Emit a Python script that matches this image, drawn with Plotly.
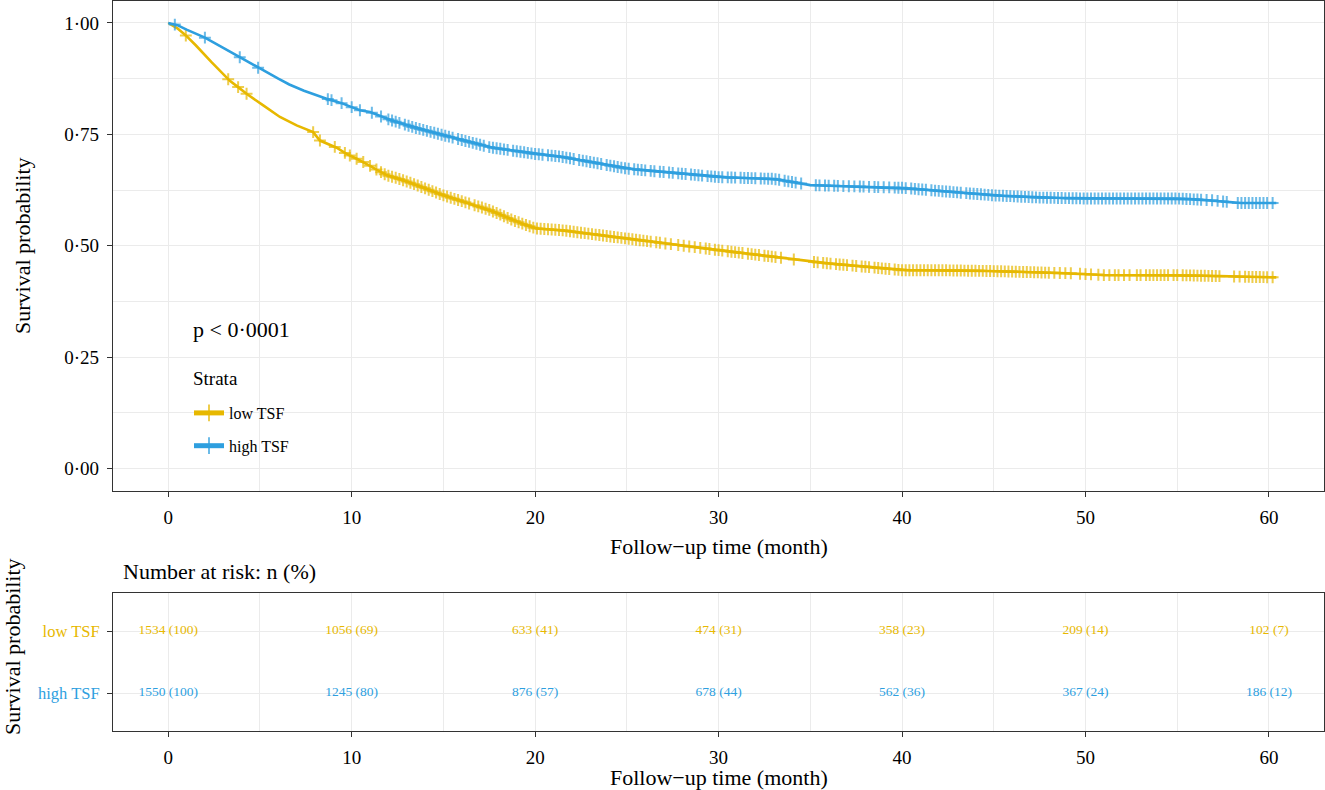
import numpy as np
import plotly.graph_objects as go

# Kaplan-Meier curves (time in months, survival)
low_t = [0, 0.5, 0.96, 1.5, 2.36, 3.36, 3.81, 4.27, 5.18, 6.09, 7.0, 7.9, 8.27, 9.18, 9.72,
         10.63, 11.9, 12.45, 13.35, 15.0, 17.53, 18.8, 20.0, 21.4, 25.0, 30.0, 33.0, 35.0,
         40.0, 42.0, 45.0, 49.2, 51.0, 55.0, 58.9, 60.4]
low_s = [1.0, 0.988, 0.972, 0.95, 0.912, 0.870, 0.856, 0.841, 0.815, 0.789, 0.770, 0.755, 0.736,
         0.720, 0.706, 0.688, 0.658, 0.652, 0.639, 0.613, 0.58, 0.557, 0.539, 0.535, 0.516, 0.49,
         0.475, 0.464, 0.445, 0.445, 0.443, 0.438, 0.434, 0.434, 0.43, 0.429]

high_t = [0, 0.5, 1.0, 2.0, 3.0, 3.9, 5.0, 6.0, 6.6, 7.4, 8.63, 9.45, 10.0, 10.45, 11.0, 11.9,
          13.35, 15.0, 17.53, 20.0, 21.4, 25.0, 30.0, 33.0, 35.0, 40.0, 42.0, 45.0, 47.5, 50.0,
          55.0, 56.9, 58.2, 60.4]
high_s = [1.0, 0.995, 0.985, 0.967, 0.944, 0.923, 0.897, 0.875, 0.862, 0.848, 0.830, 0.820,
          0.811, 0.804, 0.800, 0.785, 0.766, 0.748, 0.721, 0.706, 0.7, 0.673, 0.654, 0.65, 0.636,
          0.63, 0.623, 0.613, 0.608, 0.606, 0.606, 0.602, 0.596, 0.596]

# censoring times (the + marks)
low_cens = [
    0.96, 3.27, 3.81, 4.27, 7.9, 8.27, 9.08, 9.63, 9.9, 10.27, 10.63, 11.0, 11.35, 11.6, 11.8,
    12.0, 12.2, 12.4, 12.6, 12.8, 13.0, 13.2, 13.4, 13.6, 13.8, 14.0, 14.2, 14.4, 14.6, 14.8,
    15.0, 15.2, 15.4, 15.6, 15.8, 16.0, 16.2, 16.4, 16.7, 16.9, 17.1, 17.3, 17.5, 17.7, 17.9,
    18.1, 18.3, 18.5, 18.7, 18.9, 19.1, 19.3, 19.5, 19.7, 19.9, 20.1, 20.3, 20.5, 20.7, 20.9,
    21.1, 21.3, 21.5, 21.7, 21.9, 22.1, 22.3, 22.5, 22.7, 22.9, 23.1, 23.3, 23.5, 23.7, 23.9,
    24.1, 24.3, 24.5, 24.7, 24.9, 25.1, 25.3, 25.5, 25.7, 25.9, 26.1, 26.3, 26.6, 26.8,
    27.1, 27.4, 27.8, 28.1, 28.4, 28.7, 29.0, 29.3, 29.5, 29.8, 30.0, 30.2, 30.5, 30.7, 30.9,
    31.1, 31.3, 31.6, 31.8, 32.0, 32.2, 32.5, 32.7, 32.9, 33.1, 33.4, 34.1,
    35.2, 35.4, 35.7, 35.9, 36.1, 36.4, 36.6, 36.8, 37.0, 37.3, 37.5, 37.8,
    38.0, 38.2, 38.5, 38.7, 38.9, 39.1, 39.3, 39.6, 39.8, 40.0, 40.2, 40.4, 40.6, 40.8,
    41.0, 41.2, 41.4, 41.6, 41.8, 42.0, 42.2, 42.4, 42.6, 42.8, 43.0, 43.2, 43.4, 43.6, 43.8,
    44.0, 44.2, 44.4, 44.6, 44.8, 45.0, 45.2, 45.4, 45.6, 45.8, 46.0, 46.2, 46.4, 46.6, 46.8,
    47.0, 47.2, 47.4, 47.6, 47.8, 48.0, 48.3, 48.6, 48.9, 49.2, 49.7, 50.0, 50.3, 50.7,
    51.0, 51.3, 51.6, 51.8, 52.1, 52.4, 52.8, 53.0, 53.3, 53.5, 53.7, 53.9,
    54.1, 54.3, 54.5, 54.8, 55.0, 55.3, 55.5, 55.7, 55.9, 56.1, 56.3, 56.5, 56.7, 56.9,
    57.1, 57.3, 58.1, 58.4, 58.7, 58.9, 59.1, 59.3, 59.5, 59.7, 59.9, 60.2]
high_cens = [
    0.36, 2.0, 3.9, 4.9, 8.7, 8.9, 9.45, 10.0, 10.45, 11.1, 11.6,
    12.0, 12.2, 12.4, 12.6, 12.9, 13.1, 13.3, 13.5, 13.7, 13.9, 14.1, 14.3, 14.5, 14.7, 14.9,
    15.1, 15.3, 15.5, 15.8, 16.0, 16.2, 16.4, 16.6, 16.8, 17.0, 17.2, 17.5, 17.7, 17.9,
    18.1, 18.3, 18.5, 18.8, 19.0, 19.2, 19.4, 19.6, 19.8, 20.0, 20.2, 20.4, 20.7, 20.9,
    21.1, 21.3, 21.5, 21.7, 21.9, 22.1, 22.4, 22.6, 22.8, 23.0, 23.2, 23.4, 23.6, 23.9,
    24.1, 24.3, 24.5, 24.7, 24.9, 25.1, 25.4, 25.6, 25.8, 26.0, 26.3, 26.5, 26.8,
    27.0, 27.3, 27.5, 27.8, 28.0, 28.2, 28.5, 28.7, 28.9, 29.1, 29.4, 29.6, 29.8,
    30.0, 30.2, 30.5, 30.7, 30.9, 31.2, 31.4, 31.6, 31.8, 32.0, 32.3, 32.5, 32.7, 32.9,
    33.1, 33.3, 33.6, 33.8, 34.0, 34.2, 34.5, 35.3, 35.5, 35.8, 36.0, 36.3, 36.5, 36.8,
    37.1, 37.4, 37.7, 37.9, 38.2, 38.5, 38.7, 39.0, 39.3, 39.6, 39.8,
    40.0, 40.2, 40.5, 40.7, 40.9, 41.1, 41.3, 41.6, 41.8, 42.0, 42.2, 42.4, 42.6, 42.8,
    43.0, 43.2, 43.5, 43.7, 43.9, 44.1, 44.3, 44.5, 44.7, 44.9, 45.1, 45.3, 45.5, 45.7, 45.9,
    46.1, 46.3, 46.5, 46.7, 46.9, 47.1, 47.3, 47.5, 47.7, 47.9, 48.1, 48.3, 48.5, 48.7, 48.9,
    49.1, 49.3, 49.5, 49.7, 49.9, 50.1, 50.3, 50.5, 50.7, 50.9, 51.1, 51.3, 51.5, 51.7, 51.9,
    52.1, 52.3, 52.5, 52.7, 52.9, 53.1, 53.3, 53.5, 53.7, 53.9, 54.1, 54.3, 54.5, 54.7, 54.9,
    55.1, 55.3, 55.5, 55.7, 55.9, 56.1, 56.3, 56.6, 56.9, 57.2, 57.5, 57.7,
    58.3, 58.5, 58.7, 58.9, 59.1, 59.3, 59.5, 59.7, 59.9, 60.2]

# number at risk table
risk_times = [0, 10, 20, 30, 40, 50, 60]
low_n = [1534, 1056, 633, 474, 358, 209, 102]
low_pct = [100, 69, 41, 31, 23, 14, 7]
high_n = [1550, 1245, 876, 678, 562, 367, 186]
high_pct = [100, 80, 57, 44, 36, 24, 12]

YELLOW = "#E7B800"
BLUE = "#2E9FDF"
FONT = "Liberation Serif"
W, H = 1325, 790


def km_trace(name, t, s, cens, color):
    # censor marks sit on the drawn curve
    x = np.concatenate([t, cens])
    size = np.concatenate([np.zeros(len(t)), np.full(len(cens), 8.5)])
    order = np.argsort(x, kind="stable")
    x = x[order]
    size = size[order]
    y = np.interp(x, t, s)
    return go.Scatter(
        x=x, y=y, name=name, legendgroup=name, mode="lines+markers",
        line=dict(color=color, width=2.6),
        marker=dict(symbol="cross-thin", size=size, color=color,
                    line=dict(color=color, width=2)),
        hoverinfo="skip", xaxis="x", yaxis="y",
    )


fig = go.Figure()
fig.add_trace(km_trace("low TSF", low_t, low_s, low_cens, YELLOW))
fig.add_trace(km_trace("high TSF", high_t, high_s, high_cens, BLUE))

# risk table rows: high TSF at 1, low TSF at 2
fig.add_trace(go.Scatter(
    x=risk_times, y=[2] * len(risk_times), mode="text",
    text=[f"{n} ({p})" for n, p in zip(low_n, low_pct)],
    textfont=dict(family=FONT, size=13.5, color=YELLOW),
    showlegend=False, hoverinfo="skip", xaxis="x2", yaxis="y2"))
fig.add_trace(go.Scatter(
    x=risk_times, y=[1] * len(risk_times), mode="text",
    text=[f"{n} ({p})" for n, p in zip(high_n, high_pct)],
    textfont=dict(family=FONT, size=13.5, color=BLUE),
    showlegend=False, hoverinfo="skip", xaxis="x2", yaxis="y2"))

xdom = [113 / W, 1324 / W]
axis_common = dict(
    showline=True, mirror=True, linecolor="#333333", linewidth=1.2,
    ticks="outside", ticklen=5, tickwidth=1.2, tickcolor="#333333",
    gridcolor="#EBEBEB", gridwidth=1.2, zeroline=False,
    tickfont=dict(family=FONT, size=19, color="black"),
)
xticks = dict(tickvals=[0, 10, 20, 30, 40, 50, 60], range=[-3.01, 63.0],
              minor=dict(dtick=5, tick0=0, showgrid=True, gridcolor="#EBEBEB", gridwidth=0.6))

fig.update_layout(
    width=W, height=H,
    margin=dict(l=0, r=0, t=0, b=0),
    paper_bgcolor="white", plot_bgcolor="white",
    font=dict(family=FONT, color="black"),
    xaxis=dict(domain=xdom, anchor="y", ticklabelstandoff=4, **xticks, **axis_common),
    yaxis=dict(domain=[1 - 490.7 / H, 1 - 0.7 / H], anchor="x", range=[-0.05, 1.05],
               tickvals=[0, 0.25, 0.5, 0.75, 1.0],
               ticktext=["0·00", "0·25", "0·50", "0·75", "1·00"],
               minor=dict(dtick=0.125, tick0=0, showgrid=True, gridcolor="#EBEBEB", gridwidth=0.6),
               ticklabelstandoff=4, **axis_common),
    xaxis2=dict(domain=xdom, anchor="y2", ticklabelstandoff=4, **xticks, **axis_common),
    yaxis2=dict(domain=[1 - 730.7 / H, 1 - 592.5 / H], anchor="x2", range=[0.392, 2.621],
                tickvals=[1, 2],
                ticktext=[f'<span style="color:{BLUE}">high TSF</span>',
                          f'<span style="color:{YELLOW}">low TSF</span>'],
                ticklabelstandoff=4, **{**axis_common, "tickfont": dict(family=FONT, size=16.5)}),
    legend=dict(
        font=dict(family=FONT, size=16),
        x=189 / W, y=1 - 396 / H, xanchor="left", yanchor="top",
        bgcolor="rgba(0,0,0,0)", itemsizing="constant", traceorder="grouped",
        tracegroupgap=9,
    ),
)

ann = [
    dict(text="p < 0·0001", x=1.24, y=0.311, xref="x", yref="y", xanchor="left", font=dict(size=22)),
    dict(text="Strata", x=190.7 / W, y=1 - 378 / H, xanchor="left", font=dict(size=19)),
    dict(text="Follow−up time (month)", x=718.5 / W, y=1 - 546 / H, font=dict(size=22)),
    dict(text="Survival probability", x=22 / W, y=1 - 246 / H, textangle=-90, font=dict(size=22)),
    dict(text="Number at risk: n (%)", x=120.7 / W, y=1 - 571 / H, xanchor="left", font=dict(size=22)),
    dict(text="Follow−up time (month)", x=718.5 / W, y=1 - 777 / H, font=dict(size=22)),
    dict(text="Survival probability", x=12 / W, y=1 - 647 / H, textangle=-90, font=dict(size=22)),
]
for a in ann:
    a.setdefault("xref", "paper")
    a.setdefault("yref", "paper")
    a.setdefault("xanchor", "center")
    a["yanchor"] = "middle"
    a["showarrow"] = False
    a["font"]["family"] = FONT
    a["font"]["color"] = "black"
    fig.add_annotation(**a)

# drop the page's default body margin so the figure sits at the window corner
fig.write_html("out.html", config={"displayModeBar": False},
               post_script="document.body.style.margin='0';")
